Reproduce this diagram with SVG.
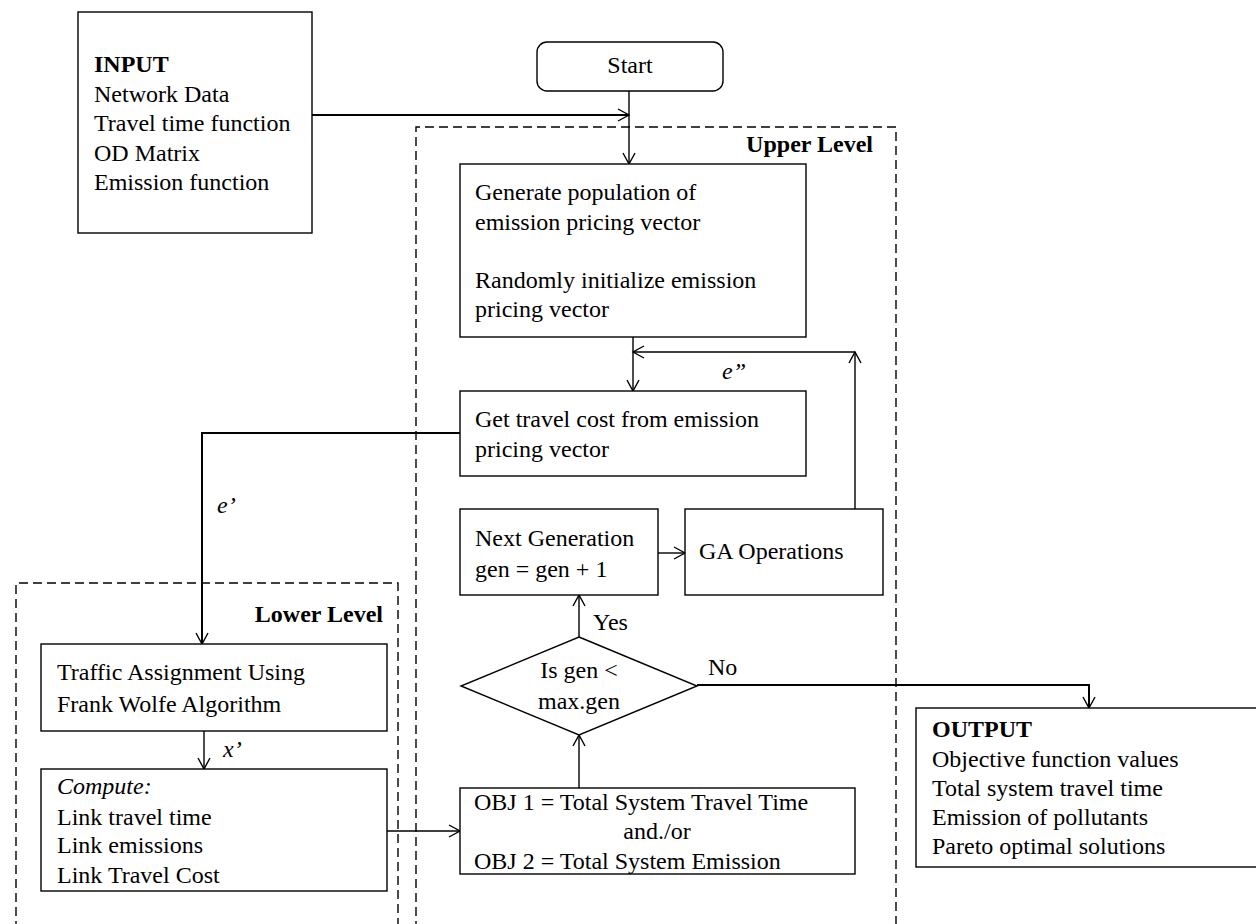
<svg xmlns="http://www.w3.org/2000/svg" width="1256" height="924" viewBox="0 0 1256 924">
<style>
  text { font-family: "Liberation Serif", "Times New Roman", serif; font-size: 24px; fill: #000; }
  .b { font-weight: bold; }
  .i { font-style: italic; }
  .box { fill: #fff; stroke: #000; stroke-width: 1.4; }
  .dash { fill: none; stroke: #000; stroke-width: 1.4; stroke-dasharray: 9 5; }
  .con { fill: none; stroke: #000; stroke-width: 1.4; marker-end: url(#arr); }
  .thick { stroke-width: 2; }
</style>
<defs>
  <marker id="arr" markerUnits="userSpaceOnUse" markerWidth="16" markerHeight="16" viewBox="-12 -8 14 16" refX="0" refY="0" orient="auto">
    <path d="M-11,-6 L0,0 L-11,6" fill="none" stroke="#000" stroke-width="1.4"/>
  </marker>
</defs>
<rect width="1256" height="924" fill="#fff"/>

<g id="upper-level">
  <path class="dash" d="M416,930 L416,127 L896,127 L896,930"/>
  <text class="b" x="873" y="152" text-anchor="end">Upper Level</text>
</g>
<g id="lower-level">
  <path class="dash" d="M16,930 L16,583 L398,583 L398,930"/>
  <text class="b" x="383" y="622" text-anchor="end">Lower Level</text>
</g>

<g id="connectors">
  <path class="con thick" d="M312,115 L629,115"/>
  <path class="con" d="M629,91 L629,164"/>
  <path class="con" d="M633,337 L633,391"/>
  <path class="con" d="M855,509 L855,352"/>
  <path class="con" d="M855,352 L633,352"/>
  <path class="con thick" d="M460,433 L202,433 L202,644"/>
  <path class="con" d="M204,731 L204,769"/>
  <path class="con" d="M387,831 L460,831"/>
  <path class="con" d="M579,788 L579,735"/>
  <path class="con" d="M579,637 L579,595"/>
  <path class="con" d="M658,553 L685,553"/>
  <path class="con thick" d="M697,685 L1089,685 L1089,708"/>
  <text class="i" x="722" y="379">e”</text>
  <text class="i" x="217" y="513">e’</text>
  <text class="i" x="223" y="757">x’</text>
  <text x="593" y="630">Yes</text>
  <text x="708" y="675">No</text>
</g>

<g id="input">
  <rect class="box" x="78" y="12" width="234" height="221"/>
  <text class="b" x="94" y="72">INPUT</text>
  <text x="94" y="102">Network Data</text>
  <text x="94" y="131">Travel time function</text>
  <text x="94" y="161">OD Matrix</text>
  <text x="94" y="190">Emission function</text>
</g>

<g id="start">
  <rect class="box" x="537" y="42" width="186" height="49" rx="10"/>
  <text x="630" y="73" text-anchor="middle">Start</text>
</g>

<g id="generate">
  <rect class="box" x="460" y="164" width="346" height="173"/>
  <text x="475" y="200">Generate population of</text>
  <text x="475" y="230">emission pricing vector</text>
  <text x="475" y="288">Randomly initialize emission</text>
  <text x="475" y="317">pricing vector</text>
</g>

<g id="get-travel-cost">
  <rect class="box" x="460" y="391" width="346" height="85"/>
  <text x="475" y="427">Get travel cost from emission</text>
  <text x="475" y="457">pricing vector</text>
</g>

<g id="next-generation">
  <rect class="box" x="460" y="509" width="198" height="86"/>
  <text x="475" y="546">Next Generation</text>
  <text x="475" y="577">gen = gen + 1</text>
</g>

<g id="ga-operations">
  <rect class="box" x="685" y="509" width="198" height="86"/>
  <text x="699" y="559">GA Operations</text>
</g>

<g id="decision">
  <polygon class="box" points="579,637 697,686 579,735 461,686"/>
  <text x="579" y="678" text-anchor="middle">Is gen &lt;</text>
  <text x="579" y="709" text-anchor="middle">max.gen</text>
</g>

<g id="objectives">
  <rect class="box" x="460" y="788" width="395" height="86"/>
  <text x="474" y="810">OBJ 1 = Total System Travel Time</text>
  <text x="657" y="839" text-anchor="middle">and./or</text>
  <text x="474" y="869">OBJ 2 = Total System Emission</text>
</g>

<g id="traffic-assignment">
  <rect class="box" x="41" y="644" width="346" height="87"/>
  <text x="57" y="680">Traffic Assignment Using</text>
  <text x="57" y="712">Frank Wolfe Algorithm</text>
</g>

<g id="compute">
  <rect class="box" x="41" y="769" width="346" height="122"/>
  <text class="i" x="57" y="794">Compute:</text>
  <text x="57" y="825">Link travel time</text>
  <text x="57" y="853">Link emissions</text>
  <text x="57" y="883">Link Travel Cost</text>
</g>

<g id="output">
  <rect class="box" x="916" y="708" width="350" height="159"/>
  <text class="b" x="932" y="737">OUTPUT</text>
  <text x="932" y="767">Objective function values</text>
  <text x="932" y="796">Total system travel time</text>
  <text x="932" y="825">Emission of pollutants</text>
  <text x="932" y="854">Pareto optimal solutions</text>
</g>
</svg>
